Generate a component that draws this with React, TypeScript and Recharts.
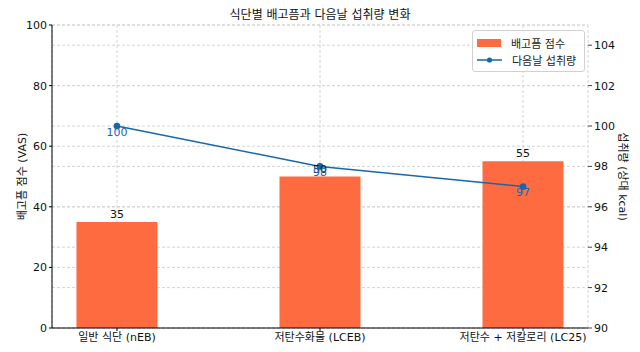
import React from "react";
import {
  Bar,
  CartesianGrid,
  ComposedChart,
  LabelList,
  Line,
  XAxis,
  YAxis,
} from "recharts";

const categories = ["일반 식단 (nEB)", "저탄수화물 (LCEB)", "저탄수 + 저칼로리 (LC25)"];
const hungerScores = [35, 50, 55];
const nextDayIntake = [100, 98, 97];
const leftTicks = [0, 20, 40, 60, 80, 100];
const rightTicks = [90, 92, 94, 96, 98, 100, 102, 104];

const data = categories.map((name, i) => ({
  idx: i,
  name,
  hunger: hungerScores[i],
  intake: nextDayIntake[i],
}));

const FONT = "'DejaVu Sans', 'Noto Sans CJK KR', sans-serif";
const BAR = "#ff6b40";
const LINE = "#1667ab";

function LegendBox() {
  return (
    <div
      style={{
        position: "absolute",
        top: 30,
        left: 472,
        width: 113,
        height: 42,
        border: "1px solid #d0d0d0",
        borderRadius: 3,
        background: "rgba(255,255,255,0.85)",
        fontFamily: FONT,
        fontSize: 11,
        color: "#222",
        boxSizing: "border-box",
        padding: "3px 0 0 4px",
      }}
    >
      <div style={{ display: "flex", alignItems: "center", height: 17 }}>
        <span style={{ width: 24, height: 8, background: BAR, display: "inline-block" }} />
        <span style={{ marginLeft: 10 }}>배고픔 점수</span>
      </div>
      <div style={{ display: "flex", alignItems: "center", height: 17 }}>
        <svg width={25} height={8}>
          <line x1={0} y1={4} x2={25} y2={4} stroke={LINE} strokeWidth={1.5} />
          <circle cx={12.5} cy={4} r={2.6} fill={LINE} />
        </svg>
        <span style={{ marginLeft: 10 }}>다음날 섭취량</span>
      </div>
    </div>
  );
}

export default function App() {
  return (
    <div style={{ width: 640, height: 352, position: "relative", background: "#fff" }}>
      <style>{`body{margin:0}`}</style>
      <div
        style={{
          position: "absolute",
          top: 5,
          left: 0,
          width: 640,
          textAlign: "center",
          fontFamily: FONT,
          fontSize: 12,
          color: "#111",
        }}
      >
        식단별 배고픔과 다음날 섭취량 변화
      </div>
      <ComposedChart
        width={640}
        height={352}
        data={data}
        margin={{ top: 25, right: 0, left: 0, bottom: 0 }}
        style={{ fontFamily: FONT }}
      >
        <CartesianGrid yAxisId="left" stroke="#d4d4d4" strokeDasharray="3 2" horizontal vertical />
        <CartesianGrid yAxisId="right" stroke="#d4d4d4" strokeDasharray="3 2" horizontal vertical={false} />
        <XAxis
          dataKey="idx"
          type="number"
          domain={[-0.32, 2.32]}
          ticks={[0, 1, 2]}
          tickFormatter={(v: number) => categories[v]}
          height={24}
          tick={{ fill: "#111", fontSize: 11 }}
          tickSize={3}
          axisLine={{ stroke: "#000" }}
          tickLine={{ stroke: "#000" }}
          interval={0}
        />
        <YAxis
          yAxisId="left"
          domain={[0, 100]}
          ticks={leftTicks}
          width={52}
          tick={{ fill: "#111", fontSize: 11 }}
          tickSize={3}
          axisLine={{ stroke: "#000" }}
          tickLine={{ stroke: "#000" }}
          label={{
            value: "배고픔 점수 (VAS)",
            angle: -90,
            position: "insideLeft",
            offset: 22,
            style: { textAnchor: "middle", fill: "#111", fontSize: 11 },
          }}
        />
        <YAxis
          yAxisId="right"
          orientation="right"
          domain={[90, 105]}
          ticks={rightTicks}
          width={52}
          tick={{ fill: "#111", fontSize: 11 }}
          tickSize={4}
          axisLine={false}
          tickLine={{ stroke: "#444" }}
          label={{
            value: "섭취량 (상대 kcal)",
            angle: 90,
            position: "insideRight",
            offset: 17,
            style: { textAnchor: "middle", fill: "#111", fontSize: 11 },
          }}
        />
        <Bar yAxisId="left" dataKey="hunger" fill={BAR} barSize={81} isAnimationActive={false}>
          <LabelList dataKey="hunger" position="top" offset={4} fill="#111" fontSize={11} />
        </Bar>
        <Line
          yAxisId="right"
          dataKey="intake"
          stroke={LINE}
          strokeWidth={1.5}
          dot={{ r: 2.6, fill: LINE, stroke: LINE }}
          isAnimationActive={false}
        >
          <LabelList
            dataKey="intake"
            content={(p: any) => (
              <text
                x={p.x}
                y={p.y + 6}
                textAnchor="middle"
                dominantBaseline="central"
                fill={LINE}
                fontSize={11}
              >
                {p.value}
              </text>
            )}
          />
        </Line>
      </ComposedChart>
      <LegendBox />
    </div>
  );
}
